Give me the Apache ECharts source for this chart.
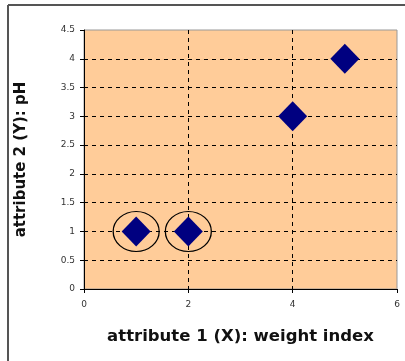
<!DOCTYPE html>
<html>
<head>
<meta charset="utf-8">
<script src="https://cdn.jsdelivr.net/npm/echarts@6/dist/echarts.min.js"></script>
<style>html,body{margin:0;padding:0;background:#fff}#c{width:405px;height:361px}</style>
</head>
<body>
<div id="c"></div>
<script>
// Data
var xValues = [1, 2, 4, 5];
var yValues = [1, 1, 3, 4];
var circledX = [1, 2];
var circledY = [1, 1];
var xTicks = [0, 2, 4, 6];
var yTicks = [0, 0.5, 1, 1.5, 2, 2.5, 3, 3.5, 4, 4.5];
var xTitle = 'attribute 1 (X): weight index';
var yTitle = 'attribute 2 (Y): pH';

var points = xValues.map(function (x, i) { return [x, yValues[i]]; });
var circled = circledX.map(function (x, i) { return [x, circledY[i]]; });

var chart = echarts.init(document.getElementById('c'), null, {renderer: 'canvas'});
var labelStyle = {fontFamily: 'DejaVu Sans', fontSize: 9, color: '#333'};
chart.setOption({
  animation: false,
  backgroundColor: '#fff',
  grid: {
    left: 84, top: 30, right: 8, bottom: 72,
    show: true, backgroundColor: '#FFCC99', borderColor: '#999', borderWidth: 1
  },
  graphic: [
    {type: 'line', shape: {x1: 8, y1: 5, x2: 405, y2: 5}, style: {stroke: '#555', lineWidth: 2}},
    {type: 'line', shape: {x1: 8, y1: 5, x2: 8, y2: 361}, style: {stroke: '#555', lineWidth: 2}}
  ],
  xAxis: {
    type: 'value', min: xTicks[0], max: xTicks[xTicks.length - 1], interval: xTicks[1] - xTicks[0],
    name: xTitle, nameLocation: 'middle', nameGap: 39,
    nameTextStyle: {fontFamily: 'DejaVu Sans', fontWeight: 'bold', fontSize: 16.5, color: '#111'},
    axisLine: {show: true, lineStyle: {color: '#000', width: 1}},
    axisTick: {show: true, length: 4, lineStyle: {color: '#000'}},
    axisLabel: Object.assign({margin: 11}, labelStyle),
    splitLine: {show: true, showMinLine: false, showMaxLine: false, lineStyle: {color: '#000', type: [4, 4], width: 1}}
  },
  yAxis: {
    type: 'value', min: yTicks[0], max: yTicks[yTicks.length - 1], interval: yTicks[1] - yTicks[0],
    name: yTitle, nameLocation: 'middle', nameGap: 55, nameRotate: 90,
    nameTextStyle: {fontFamily: 'DejaVu Sans', fontWeight: 'bold', fontSize: 15, color: '#111'},
    axisLine: {show: true, lineStyle: {color: '#000', width: 1}},
    axisTick: {show: true, length: 4, lineStyle: {color: '#000'}},
    axisLabel: Object.assign({margin: 9}, labelStyle),
    splitLine: {show: true, showMinLine: false, showMaxLine: false, lineStyle: {color: '#000', type: [4, 4], width: 1}}
  },
  series: [
    {
      type: 'scatter', data: circled, symbol: 'circle', symbolSize: [46, 40], z: 2,
      itemStyle: {color: 'rgba(0,0,0,0)', borderColor: '#000', borderWidth: 1.2, opacity: 1}, silent: true
    },
    {
      type: 'scatter', data: points, symbol: 'diamond', symbolSize: [29, 30], z: 3,
      itemStyle: {color: '#000080', opacity: 1}
    }
  ]
});
</script>
</body>
</html>
